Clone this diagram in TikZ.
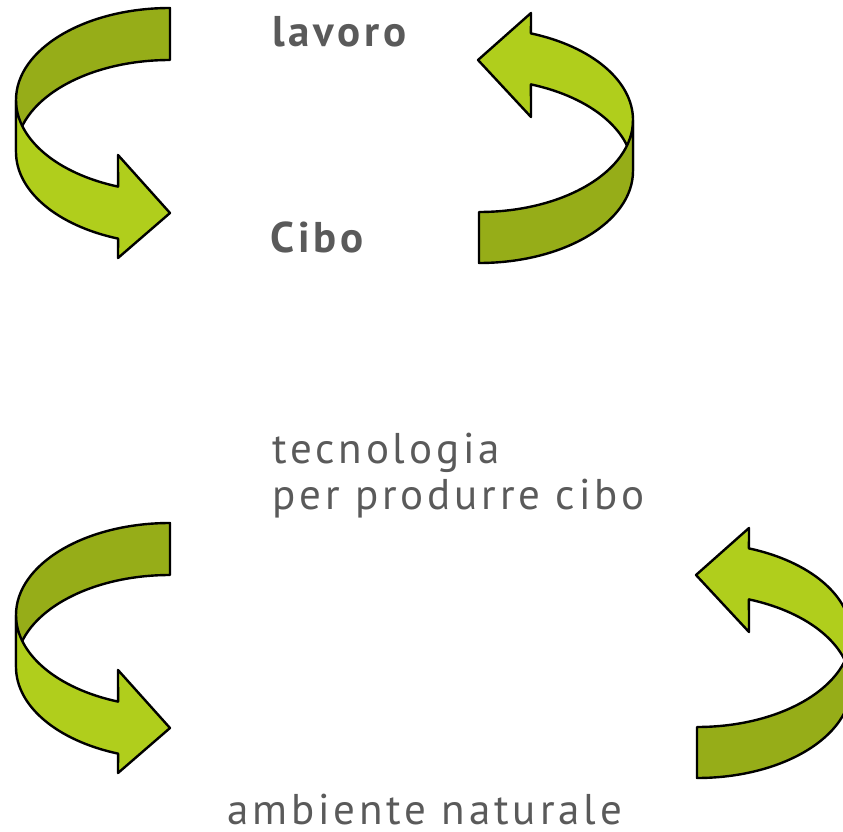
\documentclass[tikz,border=0pt]{standalone}
\usepackage{fontspec}
\setmainfont{PT Sans}
\newfontfamily\labelfont[LetterSpace=9]{PT Sans}
\definecolor{bandback}{RGB}{150,173,24}
\definecolor{bandfront}{RGB}{176,206,28}
\definecolor{labelgray}{RGB}{90,90,90}
\tikzset{
  band/.style={draw=black,line width=2.4pt,line join=round},
  % ribbon turning down, tail top right, head pointing right
  pics/turndown/.style={code={
    \draw[band,fill=bandback](170,-8)arc[start angle=90,end angle=180,x radius=154,y radius=92]--(16,-152)arc[start angle=180,end angle=90,x radius=154,y radius=92]--cycle;
    \draw[band,fill=bandfront](16,-100)arc[start angle=180,end angle=250.3,x radius=154,y radius=92]--(118,-155)--(170,-213)--(118,-258)--([shift={(170,-152)}]250.3:154 and 92)arc[start angle=250.3,end angle=180,x radius=154,y radius=92]--cycle;
  }},
  % ribbon turning up, tail bottom left, head pointing left
  pics/turnup/.style={code={
    \draw[band,fill=bandfront]([shift={(479,-120)}]70.3:154 and 92)arc[start angle=70.3,end angle=0,x radius=154,y radius=92]--(633,-171)arc[start angle=0,end angle=70.3,x radius=154,y radius=92]--(531,-117)--(478,-60)--(531,-13)--cycle;
    \draw[band,fill=bandback](633,-120)arc[start angle=0,end angle=-90,x radius=154,y radius=92]--(479,-263)arc[start angle=-90,end angle=0,x radius=154,y radius=92]--cycle;
  }}
}
\begin{document}
\begin{tikzpicture}[x=1pt,y=1pt,
    lbl/.style={inner sep=0pt,anchor=base west,text=labelgray,text depth=0pt,font=\labelfont\fontsize{43}{46}\selectfont}]
  \useasboundingbox(0,0)rectangle(843,-832);
  \clip(0,0)rectangle(843,-832);
  \pic at (0,0) {turndown};
  \pic at (0,0) {turnup};
  \pic at (0,-515) {turndown};
  \pic at (218,-515) {turnup};
  \node[lbl,font=\labelfont\fontsize{43}{46}\selectfont\bfseries] (lavoro) at (272,-47) {lavoro};
  \node[lbl,font=\labelfont\fontsize{43}{46}\selectfont\bfseries] (cibo) at (270,-252) {Cibo};
  \node[lbl,align=left] (tecnologia) at (272,-509) {tecnologia\\per produrre cibo};
  \node[lbl] (ambiente) at (227,-824) {ambiente naturale};
\end{tikzpicture}
\end{document}
